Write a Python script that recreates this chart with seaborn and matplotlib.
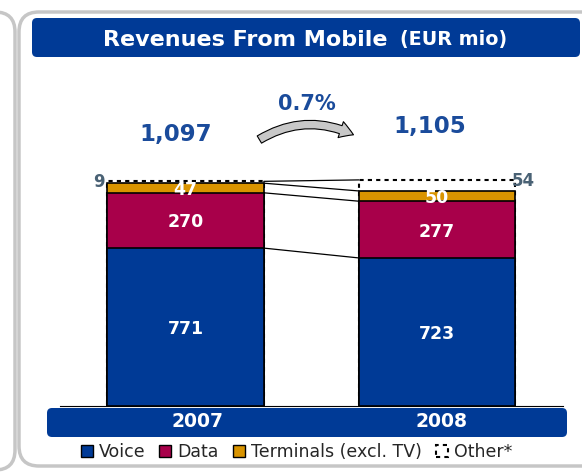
import numpy as np
import pandas as pd
import matplotlib
matplotlib.use("Agg")
import matplotlib.pyplot as plt
import seaborn as sns
from matplotlib.patches import FancyBboxPatch, FancyArrowPatch, Patch

# ---------------- data ----------------
years = ["2007", "2008"]
voice = [771, 723]
data_rev = [270, 277]
terminals = [47, 50]
other = [9, 54]
totals = [1097, 1105]
growth = "0.7%"
series_labels = ["Voice", "Data", "Terminals (excl. TV)", "Other*"]
title_main = "Revenues From Mobile"
title_unit = "(EUR mio)"

# ---------------- style ----------------
BLUE = "#003A96"
CRIMSON = "#A8004A"
GOLD = "#D99400"
TOPBLUE = "#1A4B9B"
SLATE = "#4A6275"
GREY = "#C6C6C6"

sns.set_style("white")
plt.rcParams["font.family"] = ["DejaVu Sans"]

W, H = 582, 473
fig = plt.figure(figsize=(W / 100, H / 100), dpi=100)
fig.patch.set_facecolor("white")

# decoration axes in pixel coordinates
deco = fig.add_axes([0, 0, 1, 1], zorder=0)
deco.set_xlim(0, W)
deco.set_ylim(H, 0)
deco.axis("off")

# panels
deco.add_patch(FancyBboxPatch((-80, 12), 95, 458, boxstyle="round,pad=0,rounding_size=20",
                              fc="white", ec=GREY, lw=2.5))
deco.add_patch(FancyBboxPatch((19, 12), 600, 454, boxstyle="round,pad=0,rounding_size=20",
                              fc="white", ec=GREY, lw=2.5))
# title band
deco.add_patch(FancyBboxPatch((32, 18), 548, 39, boxstyle="round,pad=0,rounding_size=5",
                              fc=BLUE, ec="none"))
deco.text(103, 45.5, title_main, color="white", fontsize=16, fontweight="bold",
          ha="left", va="baseline")
deco.text(400, 45.5, title_unit, color="white", fontsize=13.8, fontweight="bold",
          ha="left", va="baseline")
# category band
deco.add_patch(FancyBboxPatch((47, 408), 520, 29, boxstyle="round,pad=0,rounding_size=5",
                              fc=BLUE, ec="none"))

# totals and growth
deco.text(176, 132, f"{totals[0]:,}", color=TOPBLUE, fontsize=16.5, fontweight="bold",
          ha="center", va="center_baseline")
deco.text(429.5, 124, f"{totals[1]:,}", color=TOPBLUE, fontsize=16.5, fontweight="bold",
          ha="center", va="center_baseline")
deco.text(306.5, 101.5, growth, color=TOPBLUE, fontsize=15, fontweight="bold",
          ha="center", va="center_baseline")
arrow = FancyArrowPatch((257, 141), (356, 136), connectionstyle="arc3,rad=-0.28",
                        arrowstyle="simple,head_length=0.9,head_width=1.1,tail_width=0.55",
                        mutation_scale=11, fc="#C8C8C8", ec="black", lw=0.8)
deco.add_patch(arrow)

# ---------------- chart axes ----------------
scale = 0.2048  # px per unit
ymax = 1300
ax = fig.add_axes([59.75 / W, 1 - 406 / H, 503 / W, ymax * scale / H], zorder=1)
ax.patch.set_visible(False)

v = np.array(voice)
c1 = v
c2 = c1 + np.array(data_rev)
c3 = c2 + np.array(terminals)
c4 = c3 + np.array(other)

bw = 0.622
layers = [
    (c4, "white", (0, (2, 2)), 1.5),
    (c3, GOLD, "-", 1.2),
    (c2, CRIMSON, "-", 1.2),
    (c1, BLUE, "-", 1.2),
]
for vals, col, ls, lw in layers:
    df = pd.DataFrame({"year": years, "value": vals})
    sns.barplot(data=df, x="year", y="value", order=years, color=col, saturation=1,
                width=bw, edgecolor="black", linewidth=lw, linestyle=ls,
                errorbar=None, ax=ax)

# connector lines
hw = bw / 2
for lvl in [c1, c2, c3, c4]:
    ax.plot([0 + hw, 1 - hw], [lvl[0], lvl[1]], color="black", lw=0.9, zorder=3)

# value labels
for i in range(2):
    for lo, hi, val in [(0, c1[i], voice[i]), (c1[i], c2[i], data_rev[i]), (c2[i], c3[i], terminals[i])]:
        ax.text(i, (lo + hi) / 2, f"{val}", color="white", fontsize=12.5, fontweight="bold",
                ha="center", va="center_baseline", zorder=4)
ax.text(0 - hw - 0.012, c4[0] + 6, f"{other[0]}", color=SLATE, fontsize=12,
        fontweight="bold", ha="right", va="center_baseline", zorder=4)
ax.text(1 + hw - 0.012, c4[1] + 6, f"{other[1]}", color=SLATE, fontsize=12,
        fontweight="bold", ha="left", va="center_baseline", zorder=4)

ax.set_xlim(-0.5, 1.5)
ax.set_ylim(0, ymax)
ax.set_xlabel("")
ax.set_ylabel("")
ax.set_yticks([])
for s in ["top", "right", "left"]:
    ax.spines[s].set_visible(False)
ax.spines["bottom"].set_color("black")
ax.spines["bottom"].set_linewidth(0.8)
ax.set_xticks([-0.5, 0.5, 1.5], ["", "", ""])
ax.set_xticks([0.048, 1.018], years, minor=True)
ax.tick_params(axis="x", which="major", length=3, width=0.8, direction="out", color="black")
ax.tick_params(axis="x", which="minor", length=0, labelcolor="white", labelsize=13.5, pad=4)
for lbl in ax.get_xticklabels(minor=True):
    lbl.set_fontweight("bold")

# legend
handles = [
    Patch(facecolor=BLUE, edgecolor="black", linewidth=1),
    Patch(facecolor=CRIMSON, edgecolor="black", linewidth=1),
    Patch(facecolor=GOLD, edgecolor="black", linewidth=1),
    Patch(facecolor="white", edgecolor="black", linestyle=(0, (2, 2)), linewidth=1.5),
]
fig.legend(handles, series_labels, loc="center", bbox_to_anchor=(296.5 / W, 1 - 452 / H),
           ncol=4, frameon=False, fontsize=12.5, handlelength=0.7, handleheight=0.7,
           handletextpad=0.35, columnspacing=0.8, borderaxespad=0, borderpad=0)

fig.savefig("out.png", dpi=100)
